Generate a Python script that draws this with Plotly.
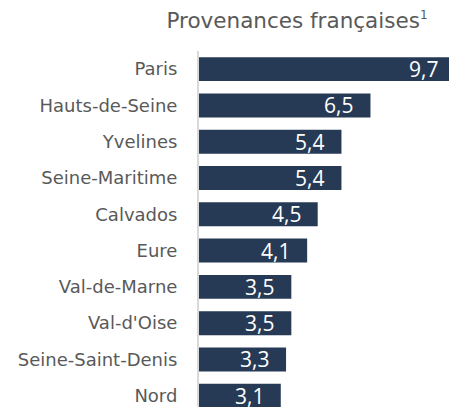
import plotly.graph_objects as go

categories = ["Paris", "Hauts-de-Seine", "Yvelines", "Seine-Maritime", "Calvados",
              "Eure", "Val-de-Marne", "Val-d'Oise", "Seine-Saint-Denis", "Nord"]
values = [9.7, 6.5, 5.4, 5.4, 4.5, 4.1, 3.5, 3.5, 3.3, 3.1]
value_labels = ["9,7", "6,5", "5,4", "5,4", "4,5", "4,1", "3,5", "3,5", "3,3", "3,1"]
title_text = "Provenances françaises<sup><span style='font-size:12px'>1</span></sup>"

BAR = "#263a56"
GREY = "#595959"
FONT = "DejaVu Sans"
NUMFONT = "Open Sans"

# page body has an 8px default margin: draw in a 449x399 box offset by 8px
W, H = 449, 399

fig = go.Figure()
fig.add_trace(go.Bar(
    x=values, y=categories, orientation="h",
    marker=dict(color=BAR, line=dict(width=0)),
    hoverinfo="skip",
))

for c, v, t in zip(categories, values, value_labels):
    fig.add_annotation(x=v, y=c, text=t, showarrow=False, xanchor="right",
                       xshift=-15, yshift=0,
                       font=dict(family=NUMFONT, size=21, color="white"))

fig.update_layout(
    width=W, height=H,
    margin=dict(l=191, r=0, t=43, b=0, pad=0),
    paper_bgcolor="white", plot_bgcolor="white",
    bargap=0.34,
    showlegend=False,
    title=dict(text=title_text, x=289 / W, xanchor="center", y=1 - 12 / H, yanchor="middle",
               font=dict(family=FONT, size=21.5, color=GREY)),
    xaxis=dict(range=[0, 9.78], visible=False, fixedrange=True),
    yaxis=dict(range=[9.31, -0.5], showline=True, linecolor="#d9d9d9", linewidth=2,
               showgrid=False, zeroline=False, ticks="", ticklabelstandoff=16,
               tickfont=dict(family=FONT, size=18, color=GREY), fixedrange=True),
)

fig.write_html("out.html")
